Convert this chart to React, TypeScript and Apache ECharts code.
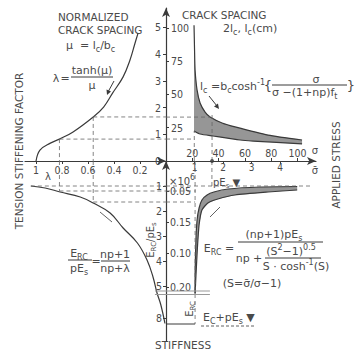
import React, { useEffect, useRef } from 'react';
import * as echarts from 'echarts';

// ---- tick values and labels ----
const lambdaTicks = [0.2, 0.4, 0.6, 0.8, 1];
const lambdaTickLabels = ['0.2', '0.4', '0.6', '0.8', '1'];
const muTicks = [0, 1, 2, 3, 4, 5];
const sigmaTicks = [20, 40, 60, 80, 100];
const spacingTicks = [25, 50, 75, 100];
const ratioTicks = [1, 2, 3, 4];
const stiffTicks = [1, 2, 3, 4, 5, 6.28];
const stiffTickLabels = ['1', '2', '3', '4', '5', '8'];
const ercTicks = [1.2, 2.44, 3.68, 5.04];
const ercTickLabels = ['0.05', '0.15', '0.10', '0.20'];

// ---- curves ----
// upper-left: lambda (x) vs mu (y)
const lambdaCurve = [
  [1.0, 0.0], [0.97, 0.41], [0.89, 0.67], [0.82, 0.82], [0.715, 1.09], [0.56, 1.65],
  [0.48, 2.02], [0.41, 2.55], [0.33, 3.15], [0.277, 3.78], [0.238, 4.42], [0.215, 4.79],
];
// upper-right: sigma (x) vs crack spacing (y)
const crackUpper = [
  [21.3, 102], [21.7, 83.5], [22.1, 68.4], [23.6, 53.4], [25.9, 43.6], [29.7, 36.8],
  [33.5, 33.1], [42.6, 28.6], [52.5, 25.6], [77.6, 19.5], [103.4, 15.8],
];
const crackLower = [
  [21.3, 22.6], [25.9, 20.3], [35.7, 18.8], [56.3, 15.8], [66.2, 15.0], [103.4, 12.8],
];
// lower-left: lambda (x) vs E_RC/pEs (y)
const stiffCurve = [
  [1.04, 1.0], [0.93, 1.08], [0.815, 1.24], [0.66, 1.44], [0.56, 1.68], [0.43, 2.08],
  [0.33, 2.68], [0.22, 3.28], [0.146, 3.96], [0.1, 4.64], [0.069, 5.28], [0.04, 5.75], [0.008, 6.5],
];
// lower-right: sigma-bar/sigma (x) vs stiffness (y)
const ercOuter = [
  [1.02, 5.3], [1.02, 4.76], [1.05, 3.16], [1.09, 2.36], [1.16, 1.88], [1.26, 1.56],
  [1.44, 1.36], [1.68, 1.24], [2.18, 1.12], [3.3, 1.04], [4.6, 1.02],
];
const ercInner = [
  [1.02, 5.3], [1.05, 4.6], [1.1, 3.5], [1.16, 2.56], [1.26, 1.96], [1.47, 1.68],
  [1.82, 1.52], [2.42, 1.36], [3.58, 1.24], [4.6, 1.16],
];

// construction (dashed) lines
const dashUL = [
  [[0.82, 0.82], [0, 0.82]], [[0.56, 1.65], [0, 1.65]],
  [[0.82, 0.82], [0.82, 0]], [[0.56, 1.65], [0.56, 0]],
];
const dashUR = [
  [[0, 16.5], [21.5, 16.5]], [[0, 33], [33.5, 33]],
  [[35, 0], [35, 36]], [[21.5, 0], [21.5, 22.6]],
];
const dashLL = [
  [[1.04, 1.0], [0, 1.0]], [[0.82, 0], [0.82, 1.2]], [[0.82, 1.2], [0, 1.2]],
  [[0.56, 0], [0.56, 1.64]], [[0.56, 1.64], [0, 1.64]],
];
const dashLR = [
  [[0, 1.0], [5.05, 1.0]], [[0, 1.2], [1.05, 1.2]], [[0, 1.64], [1.02, 1.64]],
  [[1.61, 0], [1.61, 1.0]], [[1.02, 0], [1.02, 6.52]],
];
const boxLR = [[0, 6.52], [1.02, 6.52]];
const breakLL = [[[0.085, 5.2], [0, 5.2]], [[0.085, 5.34], [0, 5.34]]];
const breakLR = [[[0, 5.2], [1.54, 5.2]], [[0, 5.34], [1.54, 5.34]]];
const axisDot = [[35, 0]];

const INK = '#3a3a3a';
const TXT = '#4a4a4a';
const NFONT = "'Liberation Sans Narrow','DejaVu Sans Condensed',sans-serif";
const TFONT = "'DejaVu Sans',sans-serif";

const lookup = (vals: number[], labels: string[]) => (v: number) => {
  const i = vals.findIndex((t) => Math.abs(t - v) < 1e-6);
  return i >= 0 ? labels[i] : '';
};

const labelStyle = { color: TXT, fontSize: 10.5, fontFamily: NFONT };

function line(xi: number, yi: number, data: number[][], opts: any = {}) {
  return {
    type: 'line', xAxisIndex: xi, yAxisIndex: yi, data, symbol: 'none', silent: true,
    smooth: opts.smooth ?? false,
    lineStyle: { color: opts.color ?? INK, width: opts.width ?? 1.2, type: opts.dash ? [4, 3] : 'solid' },
    z: opts.z ?? 3, animation: false,
  };
}

function band(xi: number, yi: number, pts: number[][]) {
  return {
    type: 'custom', xAxisIndex: xi, yAxisIndex: yi, data: [[0, 0]], silent: true, clip: false, z: 2,
    renderItem: (_p: any, api: any) => ({
      type: 'polygon',
      shape: { points: pts.map((p) => api.coord(p)) },
      style: { fill: '#969696', stroke: 'none' },
    }),
  };
}

const rich = {
  n: { fontSize: 11, fontFamily: TFONT, fill: TXT, color: TXT, lineHeight: 16, verticalAlign: 'middle' },
  s: { fontSize: 8, fontFamily: TFONT, fill: TXT, color: TXT, lineHeight: 16, verticalAlign: 'bottom' },
  u: { fontSize: 8, fontFamily: TFONT, fill: TXT, color: TXT, lineHeight: 16, verticalAlign: 'top' },
  m: { fontSize: 10, fontFamily: TFONT, fill: TXT, color: TXT, lineHeight: 14, verticalAlign: 'middle' },
  t: { fontSize: 7, fontFamily: TFONT, fill: TXT, color: TXT, lineHeight: 14, verticalAlign: 'bottom' },
};

function txt(x: number, y: number, text: string, extra: any = {}) {
  return {
    type: 'text', x, y, silent: true, rotation: extra.rotation ?? 0,
    style: {
      text, fill: TXT, fontSize: extra.fontSize ?? 11, fontFamily: extra.fontFamily ?? TFONT,
      align: extra.align ?? 'center', verticalAlign: 'middle', rich,
    },
  };
}
function seg(x1: number, y1: number, x2: number, y2: number, dash = false, w = 1) {
  return { type: 'line', silent: true, shape: { x1, y1, x2, y2 }, style: { stroke: INK, lineWidth: w, lineDash: dash ? [3, 2] : null } };
}
function head(pts: number[][]) {
  return { type: 'polygon', silent: true, shape: { points: pts }, style: { fill: INK } };
}

export default function App() {
  const ref = useRef<HTMLDivElement>(null);
  useEffect(() => {
    const chart = echarts.init(ref.current!, null, { renderer: 'svg' });
    const noSplit = { show: false };
    const option: any = {
      animation: false,
      backgroundColor: '#ffffff',
      grid: [
        { left: 25, top: 8, width: 141, height: 153, outerBoundsMode: 'none' },
        { left: 166, top: 8, width: 150, height: 153, outerBoundsMode: 'none' },
        { left: 25, top: 161, width: 141, height: 180, outerBoundsMode: 'none' },
        { left: 166, top: 161, width: 150, height: 180, outerBoundsMode: 'none' },
      ],
      xAxis: [
        {
          gridIndex: 0, type: 'value', inverse: true, min: 0, max: 1.085, position: 'bottom',
          axisLine: { show: true, onZero: false, symbol: ['none', 'arrow'], symbolSize: [6, 9], lineStyle: { color: INK, width: 1.2 } },
          axisTick: { show: true, length: 3, customValues: lambdaTicks, lineStyle: { color: INK } },
          axisLabel: { ...labelStyle, margin: 3, customValues: lambdaTicks, formatter: lookup(lambdaTicks, lambdaTickLabels) },
          splitLine: noSplit,
        },
        {
          gridIndex: 1, type: 'value', min: 0, max: 114, position: 'bottom',
          axisLine: { show: true, onZero: false, symbol: ['none', 'arrow'], symbolSize: [6, 9], lineStyle: { color: INK, width: 1.2 } },
          axisTick: { show: true, inside: true, length: 3, customValues: sigmaTicks, lineStyle: { color: INK } },
          axisLabel: { ...labelStyle, inside: true, margin: 3, customValues: sigmaTicks },
          splitLine: noSplit,
        },
        { gridIndex: 2, type: 'value', inverse: true, min: 0, max: 1.085, position: 'top', show: false },
        {
          gridIndex: 3, type: 'value', min: 0, max: 5.26, position: 'top',
          axisLine: { show: false, onZero: false },
          axisTick: { show: true, inside: true, length: 3, customValues: ratioTicks, lineStyle: { color: INK } },
          axisLabel: { ...labelStyle, fontSize: 10, inside: true, margin: 1, customValues: ratioTicks },
          splitLine: noSplit,
        },
      ],
      yAxis: [
        {
          gridIndex: 0, type: 'value', min: 0, max: 5.73, position: 'right',
          axisLine: { show: false, onZero: false },
          axisTick: { show: true, inside: true, length: 3, customValues: muTicks, lineStyle: { color: INK } },
          axisLabel: { ...labelStyle, inside: true, margin: 5, customValues: muTicks },
          splitLine: noSplit,
        },
        {
          gridIndex: 1, type: 'value', min: 0, max: 115, position: 'left',
          axisLine: { show: true, onZero: false, symbol: ['none', 'arrow'], symbolSize: [6, 9], lineStyle: { color: INK, width: 1.2 } },
          axisTick: { show: true, inside: true, length: 3, customValues: spacingTicks, lineStyle: { color: INK } },
          axisLabel: { ...labelStyle, inside: true, margin: 5, customValues: spacingTicks },
          splitLine: noSplit,
        },
        {
          gridIndex: 2, type: 'value', inverse: true, min: 0, max: 7.2, position: 'right',
          axisLine: { show: false, onZero: false },
          axisTick: { show: true, inside: true, length: 3, customValues: stiffTicks, lineStyle: { color: INK } },
          axisLabel: { ...labelStyle, inside: true, margin: 4, customValues: stiffTicks, formatter: lookup(stiffTicks, stiffTickLabels) },
          splitLine: noSplit,
        },
        {
          gridIndex: 3, type: 'value', inverse: true, min: 0, max: 7.2, position: 'left',
          axisLine: { show: true, onZero: false, symbol: ['none', 'arrow'], symbolSize: [6, 9], lineStyle: { color: INK, width: 1.2 } },
          axisTick: { show: true, inside: true, length: 3, customValues: ercTicks, lineStyle: { color: INK } },
          axisLabel: { ...labelStyle, inside: true, margin: 4, customValues: ercTicks, formatter: lookup(ercTicks, ercTickLabels) },
          splitLine: noSplit,
        },
      ],
      series: [
        band(1, 1, [...crackUpper, ...crackLower.slice().reverse()]),
        band(3, 3, [...ercOuter, ...ercInner.slice().reverse()]),
        line(0, 0, lambdaCurve, { smooth: 0.4 }),
        line(1, 1, crackUpper, { smooth: 0.2 }),
        line(1, 1, crackLower, { smooth: 0.2 }),
        line(2, 2, stiffCurve, { smooth: 0.4 }),
        line(3, 3, ercOuter, { smooth: 0.2 }),
        line(3, 3, ercInner, { smooth: 0.2 }),
        ...dashUL.map((d) => line(0, 0, d, { dash: true, width: 0.8, color: '#666' })),
        ...dashUR.map((d) => line(1, 1, d, { dash: true, width: 0.8, color: '#666' })),
        ...dashLL.map((d) => line(2, 2, d, { dash: true, width: 0.8, color: '#666' })),
        ...dashLR.map((d) => line(3, 3, d, { dash: true, width: 0.8, color: '#666' })),
        line(3, 3, boxLR, { width: 1 }),
        ...breakLL.map((d) => line(2, 2, d, { width: 1, color: '#999' })),
        ...breakLR.map((d) => line(3, 3, d, { width: 1, color: '#999' })),
        {
          type: 'scatter', xAxisIndex: 1, yAxisIndex: 1, data: axisDot, symbolSize: 4, silent: true,
          itemStyle: { color: INK }, z: 5,
        },
      ],
      graphic: [
        txt(58, 17, 'NORMALIZED', { align: 'left', fontSize: 10.5 }),
        txt(58, 30, 'CRACK SPACING', { align: 'left', fontSize: 10.5 }),
        txt(66, 45, '{n|μ  = l}{s|c}{n|/b}{s|c}', { align: 'left' }),
        txt(182, 15, 'CRACK SPACING', { align: 'left', fontSize: 10.5 }),
        txt(223, 28, '{n|2l}{s|c}{n|, l}{s|c}{n|(cm)}', { align: 'left' }),
        txt(19, 151, 'TENSION STIFFENING FACTOR', { rotation: Math.PI / 2, fontSize: 10.5 }),
        txt(336, 165, 'APPLIED STRESS', { rotation: Math.PI / 2, fontSize: 10.5 }),
        txt(183, 345, 'STIFFNESS', { fontSize: 10.5 }),
        txt(48, 176, 'λ', { fontSize: 10 }),
        txt(315, 150, 'σ', { fontSize: 10 }),
        txt(315, 170, 'σ\u0304', { fontSize: 10 }),
        txt(169, 181, '{m|×10}{u|6}', { align: 'left' }),
        txt(213, 182, '{m|pE}{t|s}{m| ▼}', { align: 'left' }),
        txt(150, 240, '{m|E}{t|RC}{m|/pE}{t|s}', { rotation: Math.PI / 2 }),
        txt(189, 309, '{m|E}{t|RC}', { rotation: Math.PI / 2 }),
        txt(203, 317, '{n|E}{s|C}{n|+pE}{s|s}{n| ▼}', { align: 'left' }),
        seg(201, 326, 256, 326, true, 0.8),
        // formula: lambda = tanh(mu)/mu
        txt(56, 78, 'λ'), txt(65, 78, '='),
        txt(92, 70, 'tanh(μ)'), seg(71, 77, 113, 77), txt(92, 85, 'μ'),
        seg(114, 81, 108, 92), head([[107, 95], [106.5, 89.5], [111, 91.6]]),
        // formula: lc = bc cosh^-1 {...}
        txt(200, 86, '{n|l}{s|c}{n| =b}{s|c}{n|cosh}{u|-1}', { align: 'left' }),
        txt(268, 85, '{', { fontSize: 13 }),
        txt(316, 79, 'σ'), seg(272, 85, 347, 85),
        txt(272, 92, '{n|σ −(1+np)f}{s|t}', { align: 'left' }),
        txt(351, 85, '}', { fontSize: 13 }),
        seg(209, 96, 217, 106), head([[219, 109], [214, 106.5], [218, 103.5]]),
        // formula: E_RC/pEs = (np+1)/(np+lambda)
        txt(79, 253, '{n|E}{s|RC}'), seg(68, 260, 92, 260), txt(79, 268, '{n|pE}{s|s}'),
        txt(96, 261, '='),
        txt(115, 254, 'np+1'), seg(101, 261, 130, 261), txt(115, 268, 'np+λ'),
        seg(100, 212, 112, 222, false, 0.8),
        // formula: E_RC = ...
        txt(219, 248, '{n|E}{s|RC}{n| =}'),
        txt(274, 234, '{n|(np+1)pE}{s|s}'), seg(238, 242, 323, 242),
        txt(249, 258, 'np +'),
        txt(291, 251, '{n|(S}{u|2}{n|−1)}{u|0.5}'), seg(265, 258, 321, 258),
        txt(296, 266, '{n|S · cosh}{u|-1}{n|(S)}'),
        txt(252, 283, '(S=σ\u0304/σ−1)'),
        seg(210, 217, 220, 207, false, 0.8),
      ],
    };
    chart.setOption(option);
    return () => chart.dispose();
  }, []);
  return <div ref={ref} style={{ position: 'fixed', left: 0, top: 0, width: 355, height: 353 }} />;
}
